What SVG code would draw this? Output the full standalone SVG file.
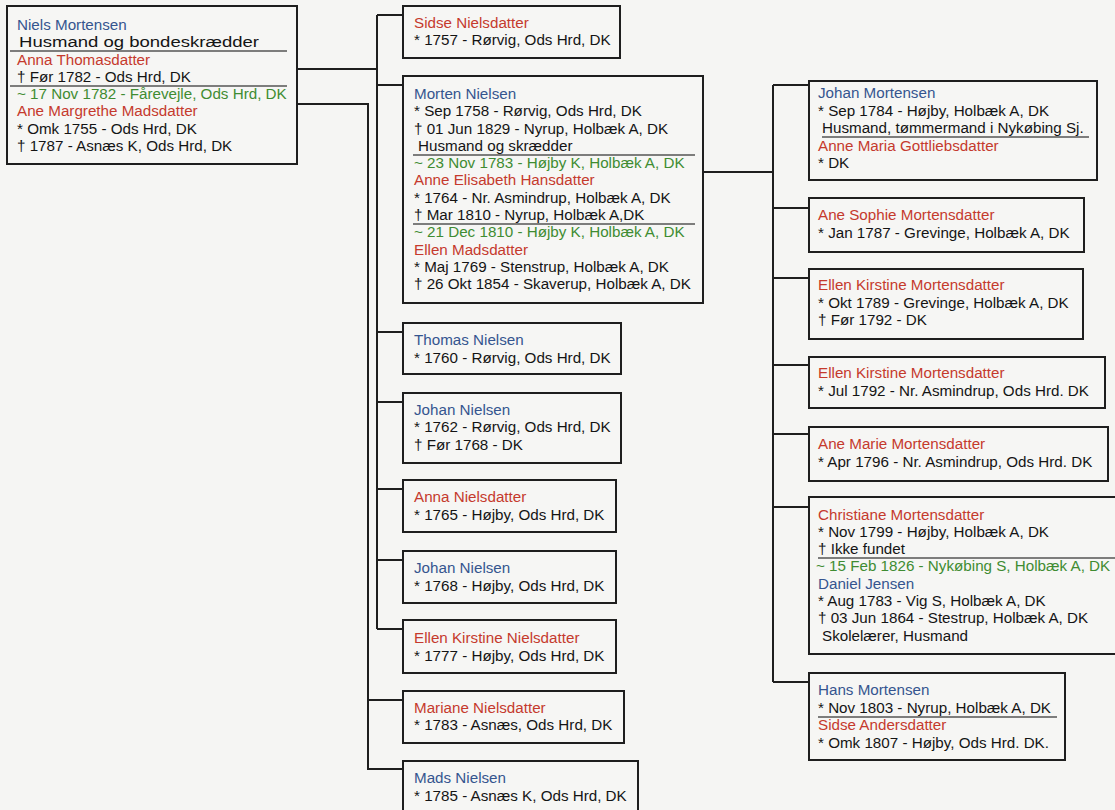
<svg xmlns="http://www.w3.org/2000/svg" width="1115" height="810" viewBox="0 0 1115 810">
<style>
.bg{fill:#f5f5f3}
.box{fill:#f6f6f4;stroke:#1e1e1e;stroke-width:2}
.t{font-family:"Liberation Sans",Arial,sans-serif;font-size:15.2px;fill:#141414}
.m{fill:#35558f}
.f{fill:#c53a2d}
.g{fill:#3f8c32}
.sep{stroke:#555;stroke-width:1.3}
.con{fill:none;stroke:#1e1e1e;stroke-width:2}
</style>
<rect class="bg" x="0" y="0" width="1115" height="810"/>

<g id="connectors">
<path class="con" d="M297 69H377M377 15V629M377 15H403M377 85H403M377 332H403M377 402H403M377 489H403M377 560H403M377 629H403"/>
<path class="con" d="M297 104H368V769H403M368 700H403"/>
<path class="con" d="M703 172H773M773 85V682M773 85H809M773 208H809M773 278H809M773 365H809M773 434H809M773 507H809M773 682H809"/>
</g>

<g id="n-niels">
<rect class="box" x="7" y="6" width="290" height="158"/>
<text class="t m" x="17" y="30">Niels Mortensen</text>
<text class="t" x="19" y="47" textLength="240" lengthAdjust="spacingAndGlyphs">Husmand og bondeskrædder</text>
<line class="sep" x1="10" y1="51" x2="287" y2="51"/>
<text class="t f" x="17" y="65">Anna Thomasdatter</text>
<text class="t" x="17" y="82">† Før 1782 - Ods Hrd, DK</text>
<line class="sep" x1="10" y1="86" x2="287" y2="86"/>
<text class="t g" x="17" y="99">~ 17 Nov 1782 - Fårevejle, Ods Hrd, DK</text>
<text class="t f" x="17" y="116">Ane Margrethe Madsdatter</text>
<text class="t" x="17" y="134">* Omk 1755 - Ods Hrd, DK</text>
<text class="t" x="17" y="151">† 1787 - Asnæs K, Ods Hrd, DK</text>
</g>

<g id="n-sidse">
<rect class="box" x="403" y="6" width="217" height="52"/>
<text class="t f" x="414" y="28">Sidse Nielsdatter</text>
<text class="t" x="414" y="45">* 1757 - Rørvig, Ods Hrd, DK</text>
</g>

<g id="n-morten">
<rect class="box" x="403" y="76" width="300" height="227"/>
<text class="t m" x="414" y="99">Morten Nielsen</text>
<text class="t" x="414" y="116">* Sep 1758 - Rørvig, Ods Hrd, DK</text>
<text class="t" x="414" y="134">† 01 Jun 1829 - Nyrup, Holbæk A, DK</text>
<text class="t" x="418" y="151">Husmand og skrædder</text>
<line class="sep" x1="413" y1="155" x2="695" y2="155"/>
<text class="t g" x="414" y="168">~ 23 Nov 1783 - Højby K, Holbæk A, DK</text>
<text class="t f" x="414" y="185">Anne Elisabeth Hansdatter</text>
<text class="t" x="414" y="203">* 1764 - Nr. Asmindrup, Holbæk A, DK</text>
<text class="t" x="414" y="220">† Mar 1810 - Nyrup, Holbæk A,DK</text>
<line class="sep" x1="413" y1="224" x2="695" y2="224"/>
<text class="t g" x="414" y="237">~ 21 Dec 1810 - Højby K, Holbæk A, DK</text>
<text class="t f" x="414" y="255">Ellen Madsdatter</text>
<text class="t" x="414" y="272">* Maj 1769 - Stenstrup, Holbæk A, DK</text>
<text class="t" x="414" y="289">† 26 Okt 1854 - Skaverup, Holbæk A, DK</text>
</g>

<g id="n-thomas">
<rect class="box" x="403" y="323" width="218" height="51"/>
<text class="t m" x="414" y="345">Thomas Nielsen</text>
<text class="t" x="414" y="363">* 1760 - Rørvig, Ods Hrd, DK</text>
</g>

<g id="n-johan1762">
<rect class="box" x="403" y="393" width="218" height="70"/>
<text class="t m" x="414" y="415">Johan Nielsen</text>
<text class="t" x="414" y="432">* 1762 - Rørvig, Ods Hrd, DK</text>
<text class="t" x="414" y="450">† Før 1768 - DK</text>
</g>

<g id="n-anna">
<rect class="box" x="403" y="480" width="213" height="52"/>
<text class="t f" x="414" y="502">Anna Nielsdatter</text>
<text class="t" x="414" y="520">* 1765 - Højby, Ods Hrd, DK</text>
</g>

<g id="n-johan1768">
<rect class="box" x="403" y="551" width="213" height="52"/>
<text class="t m" x="414" y="573">Johan Nielsen</text>
<text class="t" x="414" y="591">* 1768 - Højby, Ods Hrd, DK</text>
</g>

<g id="n-ellenN">
<rect class="box" x="403" y="620" width="213" height="53"/>
<text class="t f" x="414" y="643">Ellen Kirstine Nielsdatter</text>
<text class="t" x="414" y="661">* 1777 - Højby, Ods Hrd, DK</text>
</g>

<g id="n-mariane">
<rect class="box" x="403" y="691" width="221" height="52"/>
<text class="t f" x="414" y="713">Mariane Nielsdatter</text>
<text class="t" x="414" y="730">* 1783 - Asnæs, Ods Hrd, DK</text>
</g>

<g id="n-mads">
<rect class="box" x="403" y="761" width="235" height="56"/>
<text class="t m" x="414" y="783">Mads Nielsen</text>
<text class="t" x="414" y="801">* 1785 - Asnæs K, Ods Hrd, DK</text>
</g>

<g id="n-johanM">
<rect class="box" x="809" y="81" width="288" height="99"/>
<text class="t m" x="818" y="98">Johan Mortensen</text>
<text class="t" x="818" y="116">* Sep 1784 - Højby, Holbæk A, DK</text>
<text class="t" x="822" y="133">Husmand, tømmermand i Nykøbing Sj.</text>
<line class="sep" x1="822" y1="137" x2="1089" y2="137"/>
<text class="t f" x="818" y="151">Anne Maria Gottliebsdatter</text>
<text class="t" x="818" y="168">* DK</text>
</g>

<g id="n-anesophie">
<rect class="box" x="809" y="198" width="275" height="54"/>
<text class="t f" x="818" y="220">Ane Sophie Mortensdatter</text>
<text class="t" x="818" y="238">* Jan 1787 - Grevinge, Holbæk A, DK</text>
</g>

<g id="n-ellenK1789">
<rect class="box" x="809" y="269" width="274" height="70"/>
<text class="t f" x="818" y="290">Ellen Kirstine Mortensdatter</text>
<text class="t" x="818" y="308">* Okt 1789 - Grevinge, Holbæk A, DK</text>
<text class="t" x="818" y="325">† Før 1792 - DK</text>
</g>

<g id="n-ellenK1792">
<rect class="box" x="809" y="357" width="296" height="51"/>
<text class="t f" x="818" y="378">Ellen Kirstine Mortensdatter</text>
<text class="t" x="818" y="396">* Jul 1792 - Nr. Asmindrup, Ods Hrd. DK</text>
</g>

<g id="n-anemarie">
<rect class="box" x="809" y="427" width="299" height="54"/>
<text class="t f" x="818" y="449">Ane Marie Mortensdatter</text>
<text class="t" x="818" y="467">* Apr 1796 - Nr. Asmindrup, Ods Hrd. DK</text>
</g>

<g id="n-christiane">
<rect class="box" x="809" y="497" width="320" height="157"/>
<text class="t f" x="818" y="520">Christiane Mortensdatter</text>
<text class="t" x="818" y="537">* Nov 1799 - Højby, Holbæk A, DK</text>
<text class="t" x="818" y="554">† Ikke fundet</text>
<line class="sep" x1="818" y1="558" x2="1115" y2="558"/>
<text class="t g" x="816" y="571">~ 15 Feb 1826 - Nykøbing S, Holbæk A, DK</text>
<text class="t m" x="818" y="589">Daniel Jensen</text>
<text class="t" x="818" y="606">* Aug 1783 - Vig S, Holbæk A, DK</text>
<text class="t" x="818" y="623">† 03 Jun 1864 - Stestrup, Holbæk A, DK</text>
<text class="t" x="822" y="641">Skolelærer, Husmand</text>
</g>

<g id="n-hans">
<rect class="box" x="809" y="673" width="256" height="87"/>
<text class="t m" x="818" y="695">Hans Mortensen</text>
<text class="t" x="818" y="713">* Nov 1803 - Nyrup, Holbæk A, DK</text>
<line class="sep" x1="818" y1="717" x2="1057" y2="717"/>
<text class="t f" x="818" y="730">Sidse Andersdatter</text>
<text class="t" x="818" y="748">* Omk 1807 - Højby, Ods Hrd. DK.</text>
</g>
</svg>
